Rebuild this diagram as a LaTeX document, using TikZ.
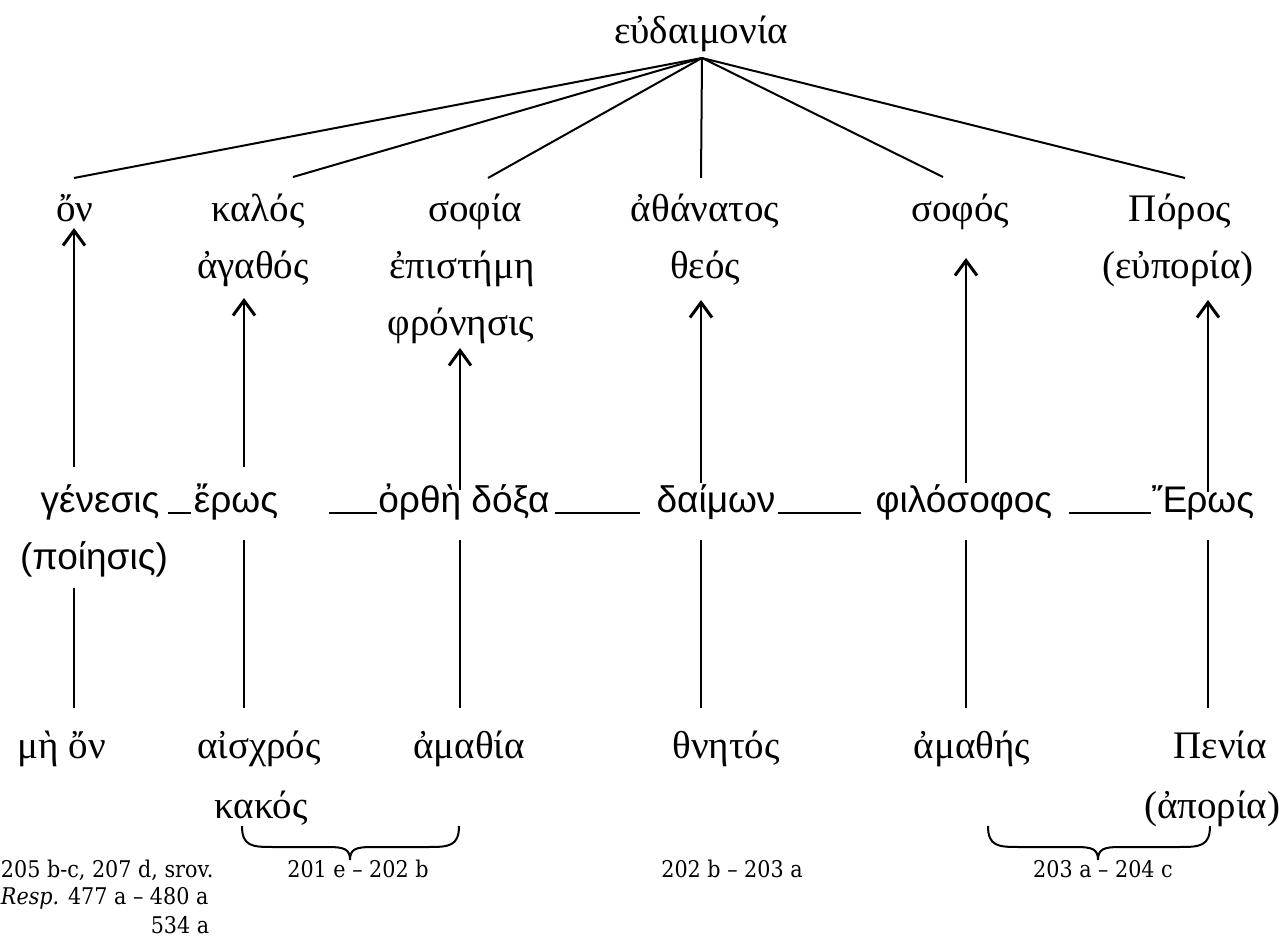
\documentclass[tikz,border=0pt]{standalone}
\usepackage{fontspec}
\setmainfont{DejaVu Serif}[FakeStretch=0.9]
\newfontfamily\grk{Liberation Serif}
\newfontfamily\grksans{Liberation Sans}
\usetikzlibrary{arrows.meta}

\begin{document}
\begin{tikzpicture}[x=0.5pt,y=-0.5pt,
  line width=1pt,
  wrd/.style={font=\grk\fontsize{19.5}{22}\selectfont, inner sep=0pt, anchor=base},
  key/.style={font=\grksans\fontsize{18.5}{21}\selectfont, inner sep=0pt, anchor=base},
  ref/.style={font=\fontsize{11.5}{13}\selectfont, inner sep=0pt, anchor=base},
  up/.style={-{Straight Barb[length=7.5pt,width=11pt,line width=1.5pt]}},
  dash line/.style={line width=1pt}
]
\useasboundingbox (0,0) rectangle (1279,945);

% summit
\node[wrd] (eud) at (701,44) {εὐδαιμονία};
\coordinate (apex) at (702,58);

% upper terms
\node[wrd] (on)       at (75,222)   {ὄν};
\node[wrd] (kalos)    at (258,222)  {καλός};
\node[wrd] (sophia)   at (475,222)  {σοφία};
\node[wrd] (athan)    at (705,222)  {ἀθάνατος};
\node[wrd] (sophos)   at (960,222)  {σοφός};
\node[wrd] (poros)    at (1180,222) {Πόρος};
\node[wrd] (agathos)  at (253,279)  {ἀγαθός};
\node[wrd] (episteme) at (462,279)  {ἐπιστήμη};
\node[wrd] (theos)    at (705,279)  {θεός};
\node[wrd] (euporia)  at (1178,279) {(εὐπορία)};
\node[wrd] (phron)    at (461,336)  {φρόνησις};

% ends of the rays from the summit
\coordinate (t1) at (74,178);
\coordinate (t2) at (293,177);
\coordinate (t3) at (488,178);
\coordinate (t4) at (701,178);
\coordinate (t5) at (943,177);
\coordinate (t6) at (1185,178);
\foreach \t in {t1,t2,t3,t4,t5,t6} \draw (apex) -- (\t);

% middle terms
\node[key] (genesis) at (100,513)  {γένεσις};
\node[key] (poiesis) at (94,570)   {(ποίησις)};
\node[key] (eros)    at (236,513)  {ἔρως};
\node[key] (doxa)    at (464,513)  {ὀρθὴ δόξα};
\node[key] (daimon)  at (716,513)  {δαίμων};
\node[key] (philo)   at (964,513)  {φιλόσοφος};
\node[key] (Eros)    at (1203,513) {Ἔρως};

\draw[dash line] ([xshift=4pt]genesis.base east) -- ([xshift=-1pt]eros.base west);
\draw[dash line] ([xshift=25pt]eros.base east) -- ([xshift=0pt]doxa.base west);
\draw[dash line] ([xshift=2pt]doxa.base east) -- ([xshift=-8pt]daimon.base west);
\draw[dash line] ([xshift=1pt]daimon.base east) -- ([xshift=-7pt]philo.base west);
\draw[dash line] ([xshift=8pt]philo.base east) -- ([xshift=0pt]Eros.base west);

% rising arrows
\coordinate (m1) at (74,467);   \coordinate (u1) at (74,228);
\coordinate (m2) at (244,467);  \coordinate (u2) at (244,298);
\coordinate (m3) at (460,490);  \coordinate (u3) at (460,348);
\coordinate (m4) at (701,483);  \coordinate (u4) at (701,300);
\coordinate (m5) at (966,483);  \coordinate (u5) at (966,258);
\coordinate (m6) at (1208,492); \coordinate (u6) at (1208,300);
\foreach \i in {1,...,6} \draw[up] (m\i) -- (u\i);

% lower terms
\node[wrd] (meon)    at (62,758)   {μὴ ὄν};
\node[wrd] (aischros) at (259,758) {αἰσχρός};
\node[wrd] (kakos)   at (261,818)  {κακός};
\node[wrd] (amathia) at (469,758)  {ἀμαθία};
\node[wrd] (thnetos) at (726,758)  {θνητός};
\node[wrd] (amathes) at (972,758)  {ἀμαθής};
\node[wrd] (penia)   at (1220,758) {Πενία};
\node[wrd] (aporia)  at (1212,818) {(ἀπορία)};

% descending lines
\coordinate (s1) at (74,588);   \coordinate (b1) at (74,708);
\coordinate (s2) at (244,540);  \coordinate (b2) at (244,708);
\coordinate (s3) at (460,540);  \coordinate (b3) at (460,708);
\coordinate (s4) at (701,540);  \coordinate (b4) at (701,708);
\coordinate (s5) at (966,540);  \coordinate (b5) at (966,708);
\coordinate (s6) at (1208,540); \coordinate (b6) at (1208,708);
\foreach \i in {1,...,6} \draw (s\i) -- (b\i);

% braces
\draw (242,826) .. controls (242,846) and (252,847) .. (272,847)
      -- (328,847) .. controls (344,847) and (350,849) .. (350,860);
\draw (350,860) .. controls (350,849) and (356,847) .. (372,847)
      -- (429,847) .. controls (449,847) and (459,846) .. (459,826);
\draw (988,826) .. controls (988,846) and (998,847) .. (1018,847)
      -- (1076,847) .. controls (1092,847) and (1098,849) .. (1098,860);
\draw (1098,860) .. controls (1098,849) and (1104,847) .. (1120,847)
      -- (1180,847) .. controls (1200,847) and (1210,846) .. (1210,826);

% passages
\node[ref, anchor=base west] (r1) at (0,877) {205 b-c, 207 d, srov.};
\node[ref, anchor=base west] (r2) at (0,904) {\textit{Resp.} 477 a – 480 a};
\node[ref] (r3) at (180,933) {534 a};
\node[ref] (r4) at (358,877) {201 e – 202 b};
\node[ref] (r5) at (732,877) {202 b – 203 a};
\node[ref] (r6) at (1103,877) {203 a – 204 c};
\end{tikzpicture}
\end{document}
